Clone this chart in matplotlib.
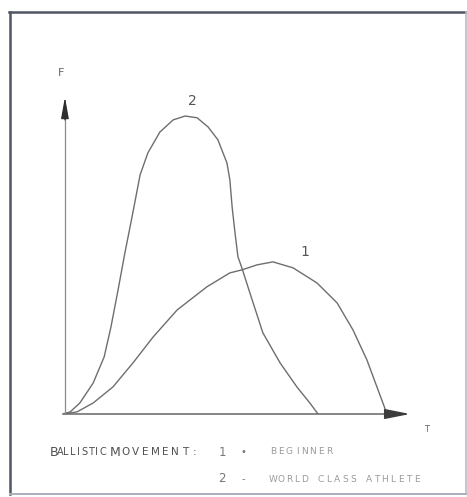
import matplotlib.pyplot as plt
from matplotlib.lines import Line2D

# curve 2: world class athlete (time, force)
t_world = [0, 0.22, 0.52, 0.93, 1.27, 1.48, 1.70, 1.91, 2.13, 2.38, 2.62,
           2.99, 3.40, 3.77, 4.14, 4.48, 4.78, 5.06, 5.15, 5.22, 5.31, 5.40,
           5.52, 5.77, 6.17, 6.70, 7.22, 7.62, 7.87]
f_world = [0, 0.07, 0.37, 1.04, 1.92, 2.93, 4.18, 5.42, 6.63, 8.05, 8.79,
           9.49, 9.90, 10.03, 9.97, 9.66, 9.23, 8.45, 7.88, 6.97, 6.09, 5.29,
           4.92, 4.07, 2.73, 1.72, 0.91, 0.37, 0]

# curve 1: beginner
t_begin = [0, 0.43, 0.93, 1.54, 2.16, 2.78, 3.52, 4.44, 5.15, 5.52, 5.99,
           6.48, 7.10, 7.84, 8.46, 8.95, 9.38, 9.69, 10.0]
f_begin = [0, 0.07, 0.37, 0.91, 1.72, 2.59, 3.50, 4.28, 4.75, 4.85, 5.02,
           5.12, 4.92, 4.41, 3.74, 2.83, 1.82, 0.91, 0]

legend_num = ['1', '2']
legend_sep = ['\u2022', '-']
legend_txt = ['BEGINNER', 'WORLD CLASS ATHLETE']

W, H = 467, 497
fig = plt.figure(figsize=(W / 100, H / 100), dpi=100)


def px(x, y):
    return x / W, 1 - y / H


def spaced(x0, y, s, pitch, size, color, first_big=None):
    # draw a string char by char with a fixed pitch (wide typewriter look)
    for i, ch in enumerate(s):
        fs = first_big if (first_big and i == 0) else size
        fig.text(*px(x0 + i * pitch, y), ch, fontsize=fs, color=color,
                 ha='center', va='center', family='DejaVu Sans')


# scanned frame: dark left/top, faint right/bottom
fig.lines += [
    Line2D(*zip(px(10, 494), px(10, 12)), transform=fig.transFigure,
           color='#4f5562', lw=1.8),
    Line2D(*zip(px(9, 12), px(466, 12)), transform=fig.transFigure,
           color='#4f5562', lw=1.8),
    Line2D(*zip(px(466, 12), px(466, 494)), transform=fig.transFigure,
           color='#b8bcc6', lw=1.2),
    Line2D(*zip(px(10, 494), px(466, 494)), transform=fig.transFigure,
           color='#aab0bc', lw=1.4),
]

ax = fig.add_axes([63 / W, (H - 414) / H, (410 - 63) / W, (414 - 97) / H])
ax.set_xlim(0, 10.71)
ax.set_ylim(0, 10.67)
ax.axis('off')

line_col = '#6e6e6e'
ax.plot(t_world, f_world, color=line_col, lw=1.0)
ax.plot(t_begin, f_begin, color=line_col, lw=1.0)

# axes: plain lines plus dark arrow heads
ax.plot([0, 10.2], [0, 0], color='#666666', lw=1.1, clip_on=False)
ax.plot([0.06, 0.06], [0, 10.2], color='#8a8a8a', lw=0.9, clip_on=False)
ax.annotate('', xy=(10.71, 0), xytext=(10.0, 0),
            arrowprops=dict(arrowstyle='-|>,head_length=1.1,head_width=0.22',
                            color='#3c3c3c', lw=1.1, mutation_scale=14,
                            shrinkA=0, shrinkB=0))
ax.annotate('', xy=(0.06, 10.67), xytext=(0.06, 9.9),
            arrowprops=dict(arrowstyle='-|>,head_length=1.0,head_width=0.18',
                            color='#2e2e2e', lw=0.9, mutation_scale=13,
                            shrinkA=0, shrinkB=0))

fig.text(*px(61, 73), 'F', fontsize=8, color='#666666', ha='center',
         va='center')
fig.text(*px(427, 430), 'T', fontsize=6, color='#666666', ha='center',
         va='center')
ax.text(3.98, 10.55, '2', fontsize=10, color='#555555', ha='center',
        va='center', clip_on=False)
ax.text(7.47, 5.45, '1', fontsize=10, color='#555555', ha='center',
        va='center', clip_on=False)

# caption
spaced(54, 452, 'BALLISTIC', 6.1, 7, '#505050', first_big=9)
spaced(115, 452, 'MOVEMENT:', 10.0, 7.5, '#505050', first_big=9)
for i in range(2):
    y = 452 + 27 * i
    fig.text(*px(222, y), legend_num[i], fontsize=8.5, color='#777777',
             ha='center', va='center')
    fig.text(*px(243, y), legend_sep[i], fontsize=7, color='#777777',
             ha='center', va='center')
    spaced(273, y, legend_txt[i], 8.0, 6.5, '#9a9a9a')

fig.savefig('out.png', dpi=100)
